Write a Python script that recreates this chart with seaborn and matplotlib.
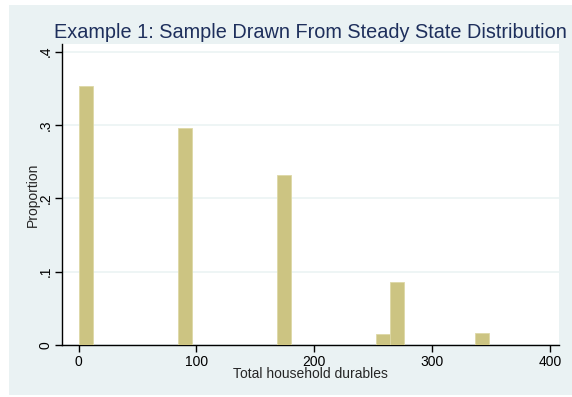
import matplotlib
matplotlib.use("Agg")
import matplotlib.pyplot as plt
import seaborn as sns
from matplotlib.patches import Rectangle

# bin midpoints (width 12) and proportion in each bin
bin_mids = [6, 90, 174, 258, 270, 342]
proportions = [0.353, 0.2955, 0.232, 0.0155, 0.0855, 0.0165]
x_ticks = [0, 100, 200, 300, 400]
y_ticks = [0, 0.1, 0.2, 0.3, 0.4]
y_labels = ["0", ".1", ".2", ".3", ".4"]

sns.set_style("white")
plt.rcParams["font.family"] = ["Liberation Sans", "DejaVu Sans"]

bg = "#EAF2F3"
fig = plt.figure(figsize=(5.72, 3.97), dpi=100)
fig.patch.set_facecolor("white")
fig.patches.append(Rectangle((9 / 572, 2 / 397), 1, 390 / 397,
                             transform=fig.transFigure, facecolor=bg,
                             edgecolor="none", zorder=-10))
ax = fig.add_axes([62 / 572, 52 / 397, 497 / 572, 301 / 397])
ax.set_facecolor("white")

sns.histplot(x=bin_mids, weights=proportions, binwidth=12, binrange=(0, 348),
             color="#CCC482", edgecolor="#DDD8A6", linewidth=0.6, alpha=1,
             ax=ax, zorder=3)

ax.set_xlim(-14, 407.5)
ax.set_ylim(0, 0.4105)
ax.set_xticks(x_ticks)
ax.set_yticks(y_ticks)
ax.set_yticklabels(y_labels, rotation=90, va="center")
ax.grid(axis="y", color=bg, linewidth=1.1, zorder=0)
ax.set_axisbelow(True)
for s in ["top", "right"]:
    ax.spines[s].set_visible(False)
for s in ["left", "bottom"]:
    ax.spines[s].set_color("black")
    ax.spines[s].set_linewidth(1.0)
ax.tick_params(axis="both", direction="out", length=5, width=1, color="black",
               labelsize=10, labelcolor="black", pad=2,
               bottom=True, left=True)

ax.set_xlabel("Total household durables", fontsize=10, labelpad=-1)
ax.set_ylabel("Proportion", fontsize=10, labelpad=-1)
ax.set_title("Example 1: Sample Drawn From Steady State Distribution",
             fontsize=14.3, color="#1E2F5C", pad=4)

fig.savefig("out.png", dpi=100)
